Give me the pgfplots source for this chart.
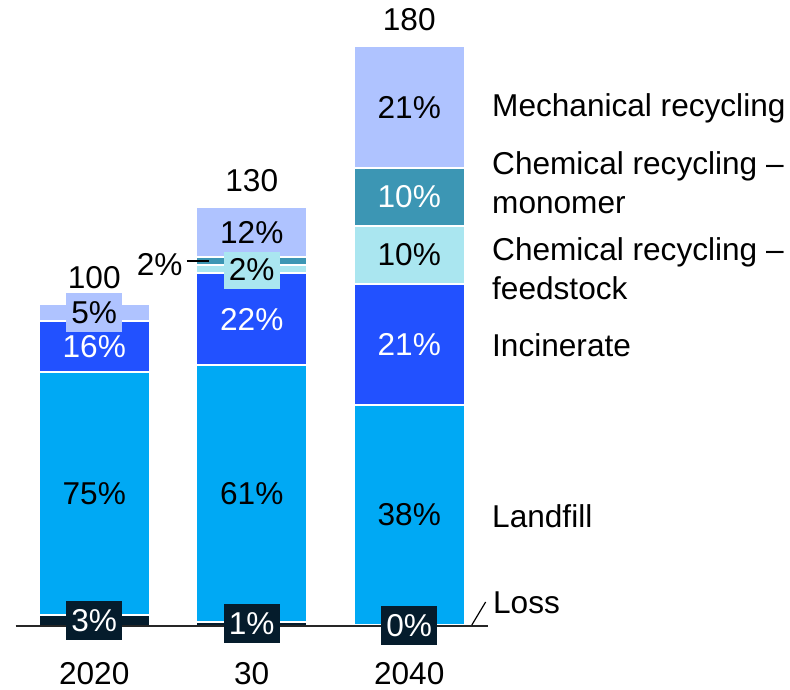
\documentclass[border=0pt]{standalone}
\usepackage{fontspec}
\setmainfont{Liberation Sans}
\usepackage{pgfplots}
\pgfplotsset{compat=1.18}
\usepackage{pgfplotstable}

\definecolor{lossC}{HTML}{051C2C}
\definecolor{landC}{HTML}{00A9F4}
\definecolor{incC}{HTML}{2251FF}
\definecolor{feedC}{HTML}{AAE6F0}
\definecolor{monoC}{HTML}{3C96B4}
\definecolor{mechC}{HTML}{AFC3FF}

% Plastic waste by treatment route (index: 2020 = 100)
\pgfplotstableread{
x loss landfill incinerate feedstock monomer mechanical
0 3.4 75.4 16.0 0.0 0.0 5.2
1 1.3 79.6 28.6 2.5 2.5 15.5
2 0.4 68.2 37.6 18.0 18.0 37.8
}\volumes

\pgfplotsset{
  panel/.style={
    scale only axis, width=236.25pt, height=305.9pt,
    xmin=-0.5, xmax=2.5, ymin=0, ymax=190,
    at={(7.75pt,31.5pt)}, anchor=south west,
    enlargelimits=false, clip=false,
  },
  lbl/.style={mark=none, draw=none, nodes near coords style={#1}},
}

\begin{document}
\fontsize{15.8}{19.5}\selectfont
\begin{tikzpicture}
\path[use as bounding box] (0,0) rectangle (395pt,344.5pt);

% stacked bars
\begin{axis}[panel, ybar stacked, bar width=55.5pt,
  axis x line*=bottom, axis y line=none,
  x axis line style={-, line width=1pt, black!85},
  xtick={0,1,2}, xticklabels={2020,30,2040}, major tick length=0pt,
  xticklabel style={anchor=center, inner sep=0pt, yshift=-23.8pt}, ytick=\empty,
  axis on top,
  every axis plot/.append style={draw=white, line width=1pt}]
\addplot[fill=lossC] table[x=x, y=loss]{\volumes};
\addplot[fill=landC] table[x=x, y=landfill]{\volumes};
\addplot[fill=incC]  table[x=x, y=incinerate]{\volumes};
\addplot[fill=feedC] table[x=x, y=feedstock]{\volumes};
\addplot[fill=monoC] table[x=x, y=monomer]{\volumes};
\addplot[fill=mechC] table[x=x, y=mechanical]{\volumes};
\end{axis}

% shares and totals
\begin{axis}[panel, hide axis,
  nodes near coords, point meta=explicit symbolic,
  nodes near coords align=center,
  every node near coord/.append style={anchor=center, inner xsep=2.6pt,
    inner ysep=0pt, minimum height=19.5pt}]
\addplot[lbl={text=white, fill=lossC}] coordinates
  {(0,1.7)[3\%] (1,0.65)[1\%] (2,0.2)[0\%]};
\addplot[lbl={text=black}] coordinates
  {(0,41.1)[75\%] (1,41.1)[61\%] (2,34.5)[38\%]};
\addplot[lbl={text=white}] coordinates
  {(0,86.8)[16\%] (1,95.2)[22\%] (2,87.4)[21\%]};
\addplot[lbl={text=black, fill=feedC}] coordinates
  {(1,110.75)[2\%] (2,115.2)[10\%]};
\addplot[lbl={text=white}] coordinates
  {(2,133.2)[10\%]};
\addplot[lbl={text=black, anchor=east, inner xsep=0pt}] coordinates
  {(0.563,112.4)[2\%]};
\addplot[lbl={text=black, fill=mechC}] coordinates
  {(0,97.4)[5\%] (1,122.25)[12\%] (2,161.1)[21\%]};
\addplot[lbl={text=black, yshift=13.2pt}] coordinates
  {(0,100)[100] (1,130)[130] (2,180)[180]};

\draw[line width=1pt, black] (axis cs:0.588,113.25) -- (axis cs:0.728,113.25);
\draw[line width=0.6pt, black] (axis cs:2.397,0.3) -- (axis cs:2.485,7.45);

\node[anchor=west, inner sep=0pt] at (axis cs:2.524,160.9) {Mechanical recycling};
\node[anchor=west, inner sep=0pt, align=left] at (axis cs:2.524,137.7)
  {Chemical recycling –\\monomer};
\node[anchor=west, inner sep=0pt, align=left] at (axis cs:2.524,110.9)
  {Chemical recycling –\\feedstock};
\node[anchor=west, inner sep=0pt] at (axis cs:2.524,87.3) {Incinerate};
\node[anchor=west, inner sep=0pt] at (axis cs:2.524,34.2) {Landfill};
\node[anchor=west, inner sep=0pt] at (axis cs:2.53,7.1) {Loss};
\end{axis}
\end{tikzpicture}
\end{document}
